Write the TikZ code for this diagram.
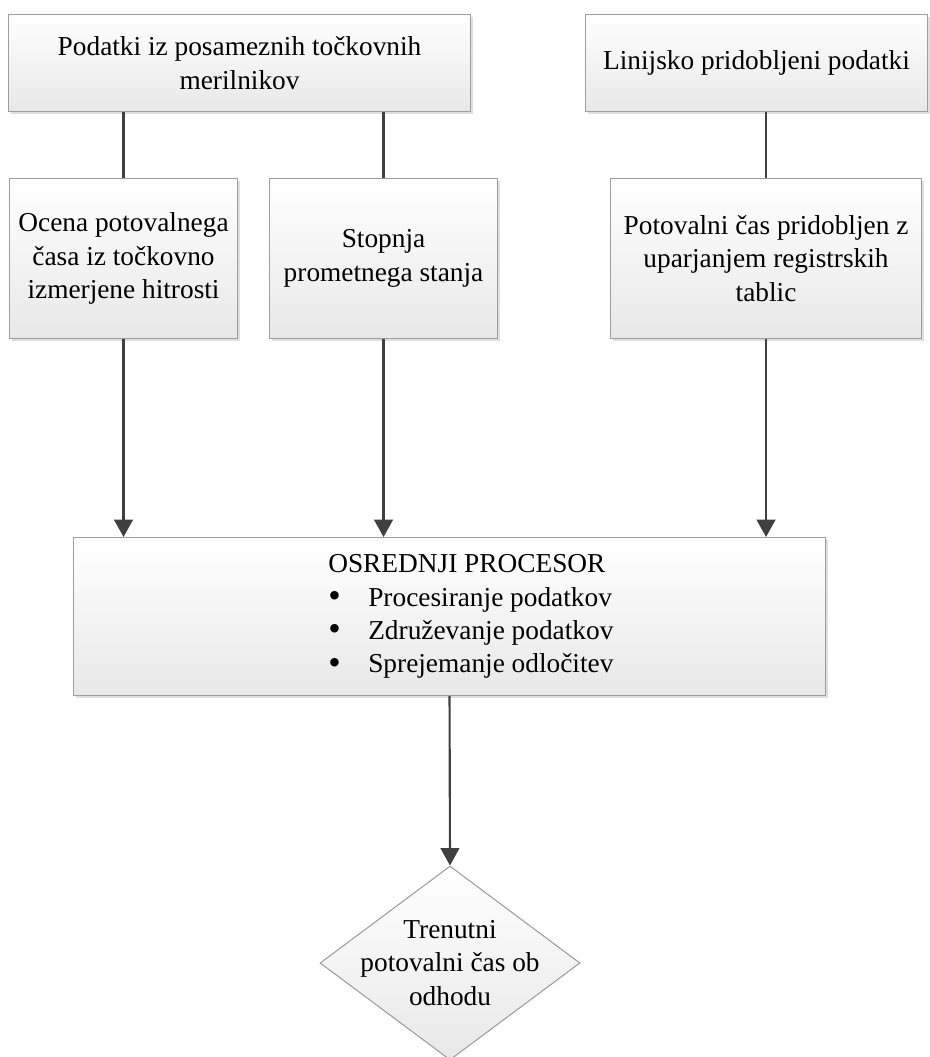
\documentclass[tikz,border=0pt]{standalone}
\usepackage{fontspec}
\setmainfont{Liberation Serif}
\usetikzlibrary{shapes.geometric,shadows,arrows.meta}

\begin{document}
\begin{tikzpicture}[
  x = 0.75pt,
  y = -0.75pt,
  font = \fontsize{20.5}{25}\selectfont,
  box/.style = {draw=black!38, line width=0.8pt, top color=white, bottom color=black!9,
    drop shadow={shadow xshift=1.5pt, shadow yshift=-1.5pt, opacity=0.25},
    align=center, anchor=north west, inner sep=0pt},
  romb/.style = {diamond, draw=black!38, line width=0.8pt, top color=white, bottom color=black!9,
    minimum width=195pt, minimum height=145.5pt, inner sep=0pt},
  line/.style = {draw=black!75, line width=1.6pt},
  arr/.style = {line, -{Triangle[width=14pt,length=13pt]}}
]
  \useasboundingbox (0,0) rectangle (929,1057);
  \def\bul{\makebox[30pt][l]{\smash{\raisebox{-1pt}{\scalebox{1.3}{\textbullet}}}}}

  % vhodni podatki
  \node[box, minimum width=346.5pt, minimum height=72.75pt] (tock) at (8,14)
    {Podatki iz posameznih točkovnih\\merilnikov};
  \node[box, minimum width=256.5pt, minimum height=72.75pt] (lin) at (585,14)
    {Linijsko pridobljeni podatki};

  % vmesni koraki
  \node[box, minimum width=171pt, minimum height=120pt] (ocena) at (9,178)
    {Ocena potovalnega\\časa iz točkovno\\izmerjene hitrosti};
  \node[box, minimum width=171pt, minimum height=120pt] (stopnja) at (269,178)
    {Stopnja\\prometnega stanja};
  \node[box, minimum width=233.25pt, minimum height=120pt] (tablice) at (610,178)
    {Potovalni čas pridobljen z\\uparjanjem registrskih\\tablic};

  % procesor
  \node[box, minimum width=564pt, minimum height=118.5pt] (proc) at (73,537) {};
  \node[align=left, inner sep=0pt, xshift=16pt] (proctxt) at (proc.center)
    {OSREDNJI PROCESOR\\
     \bul Procesiranje podatkov\\
     \bul Združevanje podatkov\\
     \bul Sprejemanje odločitev};

  % izhod
  \node[romb] (izhod) at (450,963) {};
  \node[align=center, inner sep=0pt] (izhodtxt) at (izhod.center)
    {Trenutni\\potovalni čas ob\\odhodu};

  % povezave
  \draw[line] (ocena.north |- tock.south) -- (ocena.north);
  \draw[line] (stopnja.north |- tock.south) -- (stopnja.north);
  \draw[line] (tablice.north |- lin.south) -- (tablice.north);
  \draw[arr] (ocena.south) -- (ocena.south |- proc.north);
  \draw[arr] (stopnja.south) -- (stopnja.south |- proc.north);
  \draw[arr] (tablice.south) -- (tablice.south |- proc.north);
  \draw[arr] (proc.south) -- (izhod.north);
\end{tikzpicture}
\end{document}
